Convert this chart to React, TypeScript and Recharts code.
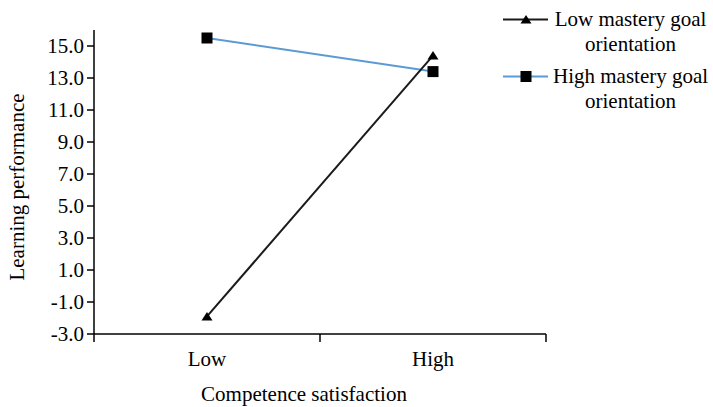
import React from 'react';
import { LineChart, Line, XAxis, YAxis, Legend } from 'recharts';

const categories = ['Low', 'High'];
const lowMasteryValues = [-1.9, 14.4];
const highMasteryValues = [15.5, 13.4];
const yTicks = [-3, -1, 1, 3, 5, 7, 9, 11, 13, 15];
const seriesNames = ['Low mastery goal orientation', 'High mastery goal orientation'];
const xTitle = 'Competence satisfaction';
const yTitle = 'Learning performance';

const data = categories.map((c, i) => ({
  pos: i + 0.5,
  cat: c,
  low: lowMasteryValues[i],
  high: highMasteryValues[i],
}));
const xTicks = [0, 0.5, 1, 1.5, 2];

const FONT = '"Liberation Serif", "Times New Roman", serif';
const BLUE = '#5B9BD5';
const DARK = '#1a1a1a';

const triPath = (cx: number, cy: number) =>
  `M${cx},${cy - 4.5} L${cx + 5.5},${cy + 4} L${cx - 5.5},${cy + 4} Z`;

const TriangleDot = (props: any) => {
  const { cx, cy, index } = props;
  if (cx == null || cy == null) return <g key={`t${index}`} />;
  return <path key={`t${index}`} d={triPath(cx, cy)} fill="#000" />;
};

const SquareDot = (props: any) => {
  const { cx, cy, index } = props;
  if (cx == null || cy == null) return <g key={`s${index}`} />;
  return <rect key={`s${index}`} x={cx - 5.5} y={cy - 5.5} width={11} height={11} fill="#000" />;
};

const XTick = (props: any) => {
  const { x, y, payload } = props;
  const v = payload.value as number;
  if (Number.isInteger(v)) {
    return <line x1={x} x2={x} y1={y - 8} y2={y} stroke="#000" strokeWidth={1.5} />;
  }
  return (
    <text x={x} y={y + 24} textAnchor="middle" fontFamily={FONT} fontSize={21} fill="#000">
      {categories[Math.floor(v)]}
    </text>
  );
};

const renderLegend = () => (
  <div style={{ fontFamily: FONT, fontSize: 21, color: '#000', paddingTop: 7 }}>
    {seriesNames.map((name, i) => {
      const words = name.split(' ');
      const line1 = words.slice(0, 3).join(' ');
      const line2 = words.slice(3).join(' ');
      return (
        <div key={name} style={{ display: 'flex', alignItems: 'flex-start', marginBottom: 7 }}>
          <svg width={53} height={25} style={{ display: 'block' }}>
            <line x1={3} x2={48} y1={12.5} y2={12.5} stroke={i === 0 ? DARK : BLUE} strokeWidth={2} />
            {i === 0 ? (
              <path d={triPath(26, 12.5)} fill="#000" />
            ) : (
              <rect x={20.5} y={7} width={11} height={11} fill="#000" />
            )}
          </svg>
          <div style={{ textAlign: 'center', lineHeight: '25px', width: 155, whiteSpace: 'nowrap' }}>
            {line1}
            <br />
            {line2}
          </div>
        </div>
      );
    })}
  </div>
);

const YTitle = (props: any) => {
  const vb = props.viewBox || { x: 0, y: 30, width: 94, height: 304 };
  const cx = 24;
  const cy = vb.y + vb.height / 2 + 5;
  return (
    <text
      x={cx}
      y={cy}
      transform={`rotate(-90 ${cx} ${cy})`}
      textAnchor="middle"
      fontFamily={FONT}
      fontSize={21}
      fill="#000"
    >
      {yTitle}
    </text>
  );
};

const XTitle = (props: any) => {
  const vb = props.viewBox || { x: 94, y: 334, width: 452, height: 73 };
  return (
    <text x={vb.x + vb.width / 2 - 16} y={401} textAnchor="middle" fontFamily={FONT} fontSize={21} fill="#000">
      {xTitle}
    </text>
  );
};

export default function App() {
  return (
    <div style={{ position: 'absolute', left: 0, top: 0, background: '#fff' }}>
      <LineChart
        width={713}
        height={407}
        data={data}
        margin={{ top: 30, right: 167, left: 0, bottom: 0 }}
      >
        <XAxis
          dataKey="pos"
          type="number"
          domain={[0, 2]}
          ticks={xTicks}
          interval={0}
          height={73}
          tickLine={false}
          tickSize={8}
          tickMargin={0}
          axisLine={{ stroke: '#000', strokeWidth: 1.5 }}
          tick={<XTick />}
          label={{ content: <XTitle /> } as any}
        />
        <YAxis
          type="number"
          domain={[-3, 16]}
          ticks={yTicks}
          interval={0}
          width={94}
          tickSize={7}
          tickMargin={3}
          tickFormatter={(v: number) => v.toFixed(1)}
          tick={{ fontFamily: FONT, fontSize: 21, fill: '#000' }}
          tickLine={{ stroke: '#000', strokeWidth: 1.5 }}
          axisLine={{ stroke: '#000', strokeWidth: 1.5 }}
          label={{ content: <YTitle /> } as any}
        />
        <Legend
          layout="vertical"
          align="center"
          verticalAlign="middle"
          content={renderLegend}
          wrapperStyle={{ position: 'absolute', left: 500, top: 0, width: 213, height: 120 }}
        />
        <Line
          type="linear"
          dataKey="high"
          name={seriesNames[1]}
          stroke={BLUE}
          strokeWidth={2}
          dot={SquareDot}
          activeDot={false}
          isAnimationActive={false}
        />
        <Line
          type="linear"
          dataKey="low"
          name={seriesNames[0]}
          stroke={DARK}
          strokeWidth={2}
          dot={TriangleDot}
          activeDot={false}
          isAnimationActive={false}
        />
      </LineChart>
    </div>
  );
}
